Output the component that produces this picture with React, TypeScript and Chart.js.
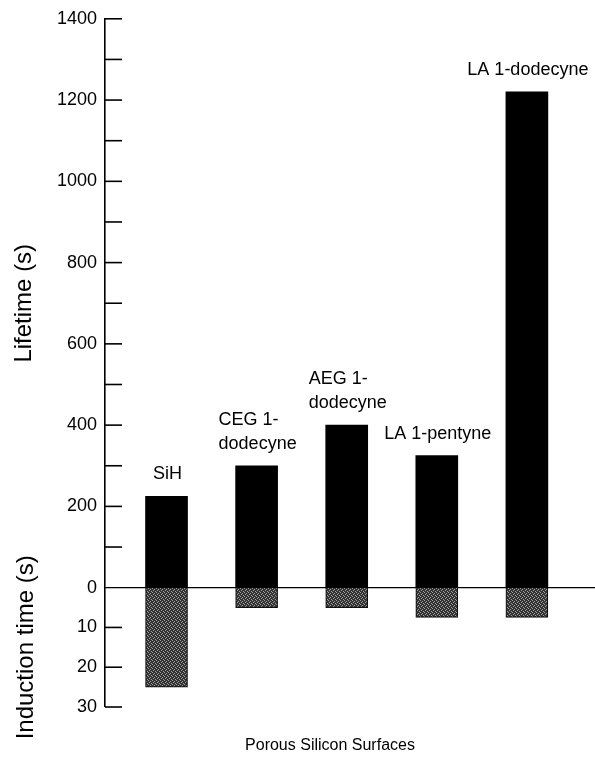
import React, { useEffect, useRef } from 'react';
import { Chart, registerables } from 'chart.js';

Chart.register(...registerables);

// ---- data ----
const categoryLines: string[][] = [
  ['SiH'],
  ['CEG 1-', 'dodecyne'],
  ['AEG 1-', 'dodecyne'],
  ['LA 1-pentyne'],
  ['LA 1-dodecyne'],
];
const categoryIndex = [0, 1, 2, 3, 4];
const lifetime = [225, 300, 400, 325, 1220];
const induction = [25, 5, 5, 7.5, 7.5];
const lifetimeTickLabels = ['0', '200', '400', '600', '800', '1000', '1200', '1400'];
const inductionTickLabels = ['10', '20', '30'];
const lifetimeTitle = 'Lifetime (s)';
const inductionTitle = 'Induction time (s)';
const xTitle = 'Porous Silicon Surfaces';

const FONT = '"Liberation Sans", Arial, Helvetica, sans-serif';

function makePattern(ctx: CanvasRenderingContext2D) {
  const c = document.createElement('canvas');
  c.width = 4;
  c.height = 4;
  const g = c.getContext('2d')!;
  g.fillStyle = '#333333';
  g.fillRect(0, 0, 4, 4);
  g.fillStyle = '#a0a0a0';
  [[0, 0], [2, 1], [1, 2], [3, 3]].forEach(([x, y]) => g.fillRect(x, y, 1, 1));
  return ctx.createPattern(c, 'repeat');
}

const overlayPlugin = {
  id: 'overlay',
  afterDatasetsDraw(chart: any) {
    const ctx: CanvasRenderingContext2D = chart.ctx;
    const area = chart.chartArea;
    ctx.save();
    // inward tick marks
    ctx.strokeStyle = '#000';
    ctx.lineWidth = 1.6;
    for (const id of ['y', 'y2']) {
      const s = chart.scales[id];
      s.ticks.forEach((t: any) => {
        if (t.value === 0) return;
        const py = s.getPixelForValue(t.value);
        ctx.beginPath();
        ctx.moveTo(area.left, py);
        ctx.lineTo(area.left + 17, py);
        ctx.stroke();
      });
    }
    // category labels above bars
    ctx.font = `18px ${FONT}`;
    ctx.fillStyle = '#000';
    ctx.textBaseline = 'middle';
    ctx.textAlign = 'left';
    const meta = chart.getDatasetMeta(0);
    meta.data.forEach((bar: any, i: number) => {
      const lines = categoryLines[i];
      const w = Math.max(...lines.map((l) => ctx.measureText(l).width));
      const left = bar.x - w / 2 + 1;
      lines.forEach((l, j) => {
        const yy = bar.y - 22 - (lines.length - 1 - j) * 24;
        ctx.fillText(l, left, yy);
      });
    });
    // x title
    ctx.font = `16px ${FONT}`;
    ctx.textAlign = 'center';
    ctx.fillText(xTitle, 330, 746);
    ctx.restore();
  },
};

export default function App() {
  const ref = useRef<HTMLCanvasElement | null>(null);

  useEffect(() => {
    document.body.style.margin = '0';
    const canvas = ref.current!;
    const ctx = canvas.getContext('2d')!;
    const pattern = makePattern(ctx);

    const chart = new Chart(ctx, {
      type: 'bar',
      data: {
        datasets: [
          {
            label: 'Lifetime',
            data: categoryIndex.map((x, i) => ({ x, y: lifetime[i] })),
            yAxisID: 'y',
            backgroundColor: '#000',
            borderWidth: 0,
            barThickness: 42,
            grouped: false,
          } as any,
          {
            label: 'Induction time',
            data: categoryIndex.map((x, i) => ({ x, y: induction[i] })),
            yAxisID: 'y2',
            backgroundColor: pattern as any,
            borderColor: '#111111',
            borderWidth: 1.2,
            barThickness: 42,
            grouped: false,
          } as any,
        ],
      },
      options: {
        animation: false,
        responsive: false,
        devicePixelRatio: 1,
        layout: { padding: { top: 15, bottom: 53, left: 0, right: 0 } },
        plugins: { legend: { display: false }, tooltip: { enabled: false } },
        scales: {
          x: {
            type: 'linear',
            offset: false,
            min: -0.683,
            max: 4.756,
            display: false,
          },
          y: {
            type: 'linear',
            position: 'left',
            stack: 'left',
            stackWeight: 572,
            weight: 1,
            min: 0,
            max: 1400,
            afterFit: (s: any) => {
              s.width = 105;
            },
            ticks: {
              stepSize: 100,
              autoSkip: false,
              padding: 8,
              color: '#000',
              font: { size: 18, family: FONT },
              callback: (v: any) => (lifetimeTickLabels.includes(String(v)) ? String(v) : ''),
            },
            grid: {
              display: true,
              drawTicks: false,
              lineWidth: 1.3,
              color: (c: any) => (c.tick && c.tick.value === 0 ? '#000' : 'rgba(0,0,0,0)'),
            },
            border: { display: true, color: '#000', width: 1.6 },
            title: {
              display: true,
              text: lifetimeTitle,
              color: '#000',
              font: { size: 24, family: FONT },
              padding: { top: 10, bottom: 0 },
            },
          },
          y2: {
            type: 'linear',
            position: 'left',
            stack: 'left',
            stackWeight: 120,
            weight: 0,
            reverse: true,
            min: 0,
            max: 30,
            afterFit: (s: any) => {
              s.width = 105;
            },
            ticks: {
              stepSize: 10,
              autoSkip: false,
              padding: 8,
              color: '#000',
              font: { size: 18, family: FONT },
              callback: (v: any) => (inductionTickLabels.includes(String(v)) ? String(v) : ''),
            },
            grid: { display: false, drawTicks: false },
            border: { display: true, color: '#000', width: 1.6 },
            title: {
              display: true,
              text: inductionTitle,
              color: '#000',
              font: { size: 24, family: FONT },
              padding: { top: 12, bottom: 0 },
            },
          },
        } as any,
      },
      plugins: [overlayPlugin],
    });
    return () => chart.destroy();
  }, []);

  return (
    <div style={{ width: 595, height: 760 }}>
      <canvas ref={ref} width={595} height={760} />
    </div>
  );
}
